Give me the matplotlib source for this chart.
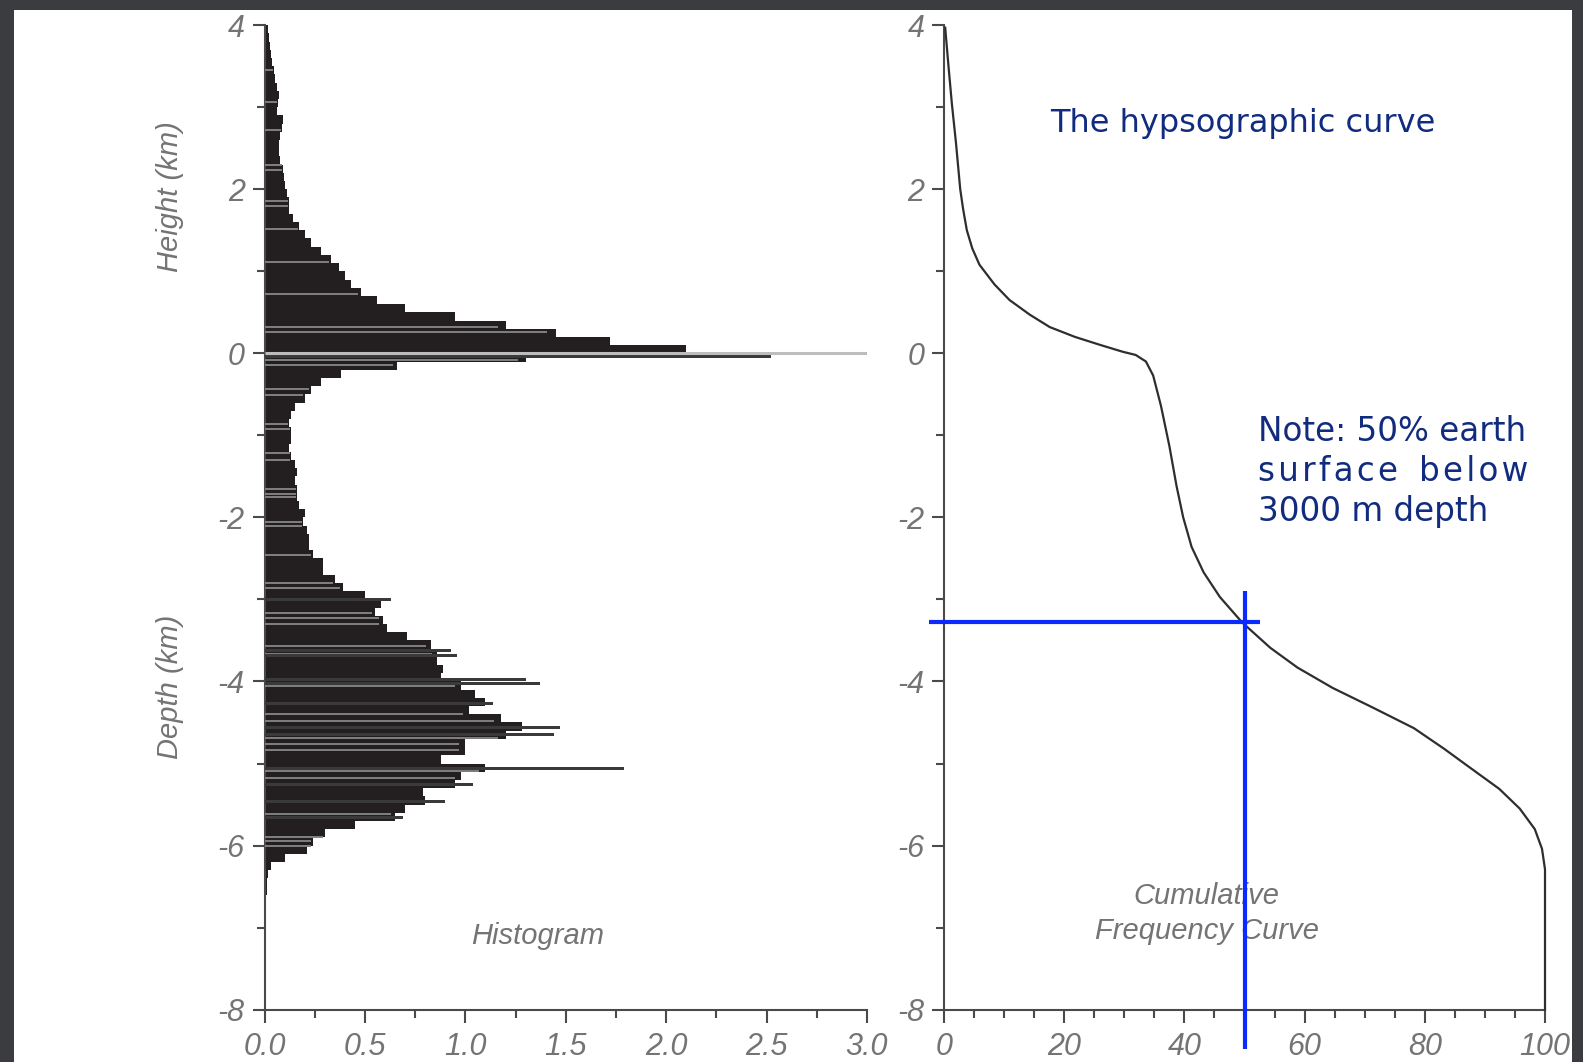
import matplotlib
matplotlib.use("Agg")
import matplotlib.pyplot as plt
import numpy as np
from matplotlib.patches import Rectangle
from matplotlib.ticker import FormatStrFormatter, MultipleLocator

# histogram: % of earth surface per 100 m elevation bin (bin centres, km)
bin_centres = np.linspace(3.95, -6.55, 106)
area_pct = [
    0.015, 0.02, 0.025, 0.03, 0.035, 0.045, 0.05, 0.06, 0.07, 0.065,
    0.06, 0.09, 0.085, 0.075, 0.07, 0.07, 0.075, 0.09, 0.095, 0.10,
    0.11, 0.12, 0.12, 0.14, 0.17, 0.20, 0.23, 0.28, 0.33, 0.37,
    0.40, 0.43, 0.48, 0.56, 0.70, 0.95, 1.20, 1.45, 1.72, 2.10,
    1.30, 0.66, 0.38, 0.28, 0.23, 0.20, 0.15, 0.13, 0.12, 0.13,
    0.13, 0.12, 0.13, 0.15, 0.16, 0.15, 0.16, 0.16, 0.17, 0.20,
    0.19, 0.21, 0.22, 0.22, 0.24, 0.29, 0.29, 0.35, 0.39, 0.50,
    0.58, 0.55, 0.59, 0.61, 0.71, 0.83, 0.86, 0.86, 0.89, 0.88,
    0.98, 1.05, 1.10, 1.02, 1.18, 1.28, 1.20, 1.00, 1.00, 0.88,
    1.10, 0.98, 0.95, 0.79, 0.80, 0.70, 0.65, 0.45, 0.30, 0.24,
    0.21, 0.10, 0.03, 0.015, 0.01, 0.01,
]

# narrow spikes that stick out of the histogram
spike_elev = [-0.04, -3.00, -3.62, -3.68, -3.98, -4.03, -4.27, -4.56, -4.65, -5.06, -5.26, -5.46, -5.66]
spike_pct = [2.52, 0.63, 0.93, 0.96, 1.30, 1.37, 1.14, 1.47, 1.44, 1.79, 1.04, 0.90, 0.69]

# grey separator rows seen inside the histogram
gray_elev = [3.45, 3.06, 2.72, 2.29, 2.24, 1.86, 1.80, 1.51, 1.11, 0.72, 0.32, 0.26,
             -0.08, -0.14, -0.43, -0.51, -0.86, -0.92, -1.22, -1.30, -1.65, -1.71,
             -1.75, -2.05, -2.10, -2.46, -2.80, -2.86, -3.17, -3.23, -3.30, -3.57,
             -3.62, -3.67, -4.06, -4.40, -4.48, -4.69, -4.76, -4.83, -5.09, -5.18,
             -5.26, -5.46, -5.61, -5.66, -5.90, -5.95, -6.00]

# cumulative frequency (hypsographic) curve
cum_pct = [0.2, 0.7, 1.3, 2.0, 2.7, 3.2, 3.8, 4.7, 5.9, 8.4, 10.9, 14.3, 17.6, 21.8, 26.1,
           29.7, 31.9, 33.6, 34.8, 36.1, 37.5, 38.7, 39.8, 41.2, 43.2, 45.9, 49.6,
           54.3, 58.8, 64.7, 71.4, 78.2, 83.2, 87.7, 92.4, 95.8, 98.3, 99.5, 100.0, 100.0]
cum_elev = [3.97, 3.54, 3.05, 2.56, 2.00, 1.75, 1.50, 1.28, 1.08, 0.84, 0.65, 0.47, 0.32, 0.20,
            0.10, 0.02, -0.02, -0.10, -0.27, -0.64, -1.13, -1.62, -2.00, -2.36, -2.67,
            -2.97, -3.28, -3.59, -3.83, -4.08, -4.32, -4.57, -4.82, -5.06, -5.31, -5.55,
            -5.80, -6.04, -6.29, -8.0]

half_pct = 50
half_elev = -3.28

W, H = 1583, 1062
dark = "#3b3c40"
axis_col = "#4a4a4a"
label_col = "#747474"
navy = "#112b7f"
blue = "#0a2aff"

plt.rcParams["font.family"] = ["Liberation Sans", "DejaVu Sans"]
plt.rcParams["font.style"] = "italic"
plt.rcParams["axes.unicode_minus"] = False

fig = plt.figure(figsize=(W / 100, H / 100), dpi=100)
fig.patch.set_facecolor("white")

bottom = 1 - 1009.6 / H
height = (1009.6 - 25.2) / H
ax1 = fig.add_axes([264.5 / W, bottom, (867 - 264.5) / W, height])
ax2 = fig.add_axes([944 / W, bottom, (1545 - 944) / W, height])

# histogram
ax1.barh(bin_centres, area_pct, height=0.1, color="#231f20", linewidth=0, zorder=2)
idx = [int(np.argmin(np.abs(bin_centres - e))) for e in gray_elev]
ax1.hlines(gray_elev, 0, [area_pct[i] * 0.97 for i in idx], color="#808080", lw=1.4, zorder=3)
ax1.barh(spike_elev, spike_pct, height=0.035, color="#3a3a3a", linewidth=0, zorder=3)
ax1.hlines(0, 0, 3.0, color="#bdbdbd", lw=2.2, zorder=4)
ax1.set_xlim(0, 3.0)
ax1.xaxis.set_major_locator(MultipleLocator(0.5))
ax1.xaxis.set_minor_locator(MultipleLocator(0.25))
ax1.xaxis.set_major_formatter(FormatStrFormatter("%.1f"))
ax1.text(1.36, -7.1, "Histogram", ha="center", va="center", fontsize=21, color=label_col)

# cumulative curve
ax2.plot(cum_pct, cum_elev, color="#2e2e2e", lw=1.6, clip_on=False, zorder=3)
ax2.set_xlim(0, 100)
ax2.xaxis.set_major_locator(MultipleLocator(20))
ax2.xaxis.set_minor_locator(MultipleLocator(5))
ax2.xaxis.set_major_formatter(FormatStrFormatter("%d"))
ax2.text(43.7, -6.83, "Cumulative\nFrequency Curve", ha="center", va="center",
         fontsize=21, color=label_col, linespacing=1.3)

ax2.vlines(half_pct, -8.48, half_elev + 0.38, color=blue, lw=3, clip_on=False, zorder=5)
ax2.hlines(half_elev, -2.5, half_pct + 2.6, color=blue, lw=3, clip_on=False, zorder=5)

hair = "\u200a"
note_kw = dict(va="center", fontsize=23.5, color=navy, family="DejaVu Sans", style="normal")
ax2.text(17.6, 2.8, "The hypsographic curve", ha="left", **dict(note_kw, fontsize=23))
ax2.text(52.3, -0.95, "Note: 50% earth", ha="left", **note_kw)
ax2.text(52.3, -1.44, hair.join("surface"), ha="left", **note_kw)
ax2.text(97.2, -1.44, hair.join("below"), ha="right", **note_kw)
ax2.text(52.3, -1.93, "3000 m depth", ha="left", **note_kw)

for ax in (ax1, ax2):
    ax.set_ylim(-8, 4)
    ax.set_facecolor("none")
    ax.yaxis.set_major_locator(MultipleLocator(2))
    ax.yaxis.set_minor_locator(MultipleLocator(1))
    ax.yaxis.set_major_formatter(FormatStrFormatter("%d"))
    ax.spines[["top", "right"]].set_visible(False)
    for side in ("left", "bottom"):
        ax.spines[side].set_color(axis_col)
        ax.spines[side].set_linewidth(1.5)
    ax.tick_params(which="major", length=9, width=1.5, color=axis_col,
                   labelsize=22, labelcolor=label_col, pad=5)
    ax.tick_params(axis="x", which="major", pad=7)
    ax.tick_params(which="minor", length=5.5, width=1.5, color=axis_col)

fig.text(169.6 / W, 1 - 197 / H, "Height (km)", rotation=90, ha="center", va="center",
         fontsize=21, color=label_col)
fig.text(169.6 / W, 1 - 686.5 / H, "Depth (km)", rotation=90, ha="center", va="center",
         fontsize=21, color=label_col)

# dark slide border around the white panel
for rect in [(0, 0, 14 / W, 1), (1572 / W, 0, 11 / W, 1), (0, 1 - 10 / H, 1, 10 / H)]:
    fig.add_artist(Rectangle(rect[:2], rect[2], rect[3], transform=fig.transFigure,
                             facecolor=dark, edgecolor="none", zorder=10))

fig.savefig("out.png", dpi=100, facecolor=fig.get_facecolor())
